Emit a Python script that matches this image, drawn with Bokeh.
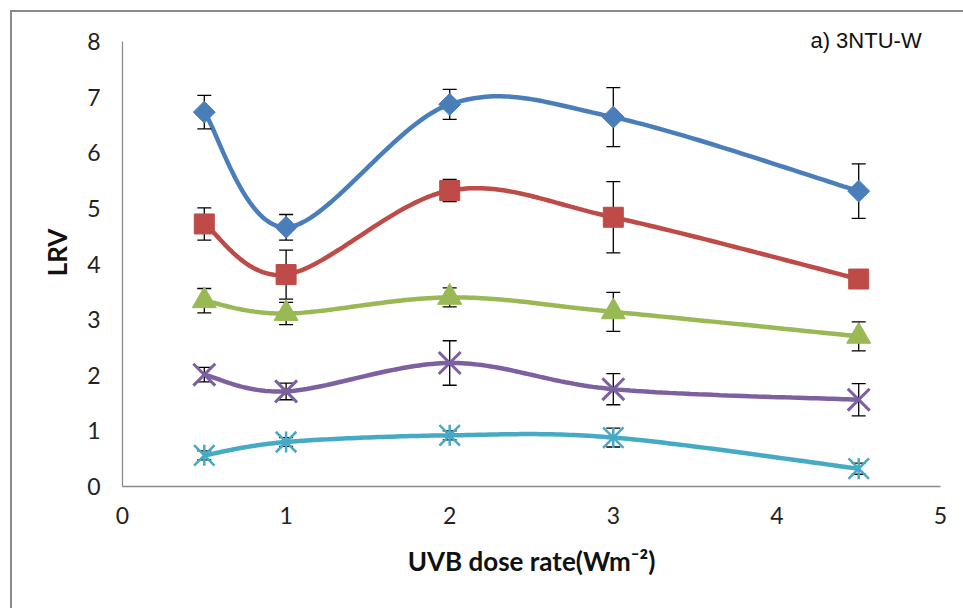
import numpy as np
from bokeh.plotting import figure
from bokeh.models import Label, FixedTicker
from bokeh.embed import file_html
from bokeh.resources import INLINE

# ---- data ----
dose = [0.5, 1, 2, 3, 4.5]
lrv_1 = [6.73, 4.66, 6.87, 6.64, 5.31]
err_1 = [0.30, 0.23, 0.27, 0.53, 0.49]
lrv_2 = [4.72, 3.81, 5.32, 4.84, 3.73]
err_2 = [0.29, 0.44, 0.20, 0.64, 0.08]
lrv_3 = [3.34, 3.11, 3.40, 3.14, 2.70]
err_3 = [0.22, 0.20, 0.17, 0.35, 0.26]
lrv_4 = [2.01, 1.71, 2.22, 1.75, 1.56]
err_4 = [0.13, 0.15, 0.40, 0.28, 0.29]
lrv_5 = [0.56, 0.80, 0.92, 0.88, 0.32]
err_5 = [0.08, 0.08, 0.08, 0.17, 0.10]
x_ticks = [0, 1, 2, 3, 4, 5]
y_ticks = [0, 1, 2, 3, 4, 5, 6, 7, 8]
panel_title = "a) 3NTU-W"
x_title = "UVB dose rate(Wm\u207b\u00b2)"
y_title = "LRV"

colors = ["#4A7EBB", "#BE4B48", "#98B954", "#7D60A0", "#46AAC5"]
series = [(lrv_1, err_1), (lrv_2, err_2), (lrv_3, err_3), (lrv_4, err_4), (lrv_5, err_5)]


def smooth(xs, ys, n=40):
    P = np.column_stack([np.asarray(xs, float), np.asarray(ys, float)])
    N = len(P)
    out = [P[0]]
    t = np.linspace(0, 1, n)[1:, None]
    for i in range(N - 1):
        p0 = P[i - 1] if i > 0 else P[i]
        p1 = P[i]
        p2 = P[i + 1]
        p3 = P[i + 2] if i + 2 < N else P[i + 1]
        c1 = p1 + (p2 - p0) / 6.0
        c2 = p2 - (p3 - p1) / 6.0
        seg = (1 - t) ** 3 * p1 + 3 * (1 - t) ** 2 * t * c1 + 3 * (1 - t) * t ** 2 * c2 + t ** 3 * p2
        out.extend(seg)
    out = np.array(out)
    return out[:, 0], out[:, 1]


# y range extends a little above 8 so the panel label fits inside the frame;
# the axis line itself is bounded to 0..8
p = figure(width=951, height=596, x_range=(0, 5), y_range=(0, 8 + 23 / 55.625),
           output_backend="svg", toolbar_location=None,
           min_border_left=110, min_border_right=23, min_border_top=6, min_border_bottom=122,
           frame_width=818, frame_height=468)
p.margin = (10, 0, 0, 10)
p.styles = {"border-left": "2px solid #8a8a8a", "border-top": "2px solid #8a8a8a"}
p.outline_line_color = None
p.grid.grid_line_color = None
p.background_fill_color = "white"
p.border_fill_color = "white"

for ax in (p.xaxis[0], p.yaxis[0]):
    ax.axis_line_color = "#8a8a8a"
    ax.axis_line_width = 1.3
    ax.major_tick_line_color = None
    ax.minor_tick_line_color = None
    ax.major_tick_out = 0
    ax.major_tick_in = 0
    ax.major_label_text_font = "Lato"
    ax.major_label_text_font_size = "23px"
    ax.major_label_text_color = "#222222"
    ax.axis_label_text_font = "Lato"
    ax.axis_label_text_font_style = "bold"
    ax.axis_label_text_font_size = "26px"
    ax.axis_label_text_color = "#111111"

p.yaxis.bounds = (0, 8)
p.xaxis.ticker = FixedTicker(ticks=x_ticks)
p.yaxis.ticker = FixedTicker(ticks=y_ticks)
p.xaxis.axis_label = x_title
p.yaxis.axis_label = y_title
p.xaxis.major_label_standoff = 20
p.xaxis.axis_label_standoff = 18
p.yaxis.major_label_standoff = 22
p.yaxis.axis_label_standoff = 11

for k, ((ys, es), c) in enumerate(zip(series, colors)):
    sx, sy = smooth(dose, ys)
    p.line(sx, sy, line_color=c, line_width=4.5)
    lo = [y - e for y, e in zip(ys, es)]
    hi = [y + e for y, e in zip(ys, es)]
    p.segment(dose, lo, dose, hi, line_color="black", line_width=1.3)
    p.scatter(dose, lo, marker="dash", size=14, line_color="black", line_width=1.3)
    p.scatter(dose, hi, marker="dash", size=14, line_color="black", line_width=1.3)
    if k == 0:
        p.scatter(dose, ys, marker="square", size=15.5, angle=np.pi / 4,
                  fill_color=c, line_color=c)
    elif k == 1:
        p.scatter(dose, ys, marker="square", size=20, fill_color=c, line_color=c)
    elif k == 2:
        p.scatter(dose, ys, marker="triangle", size=24, fill_color=c, line_color=c)
    elif k == 3:
        p.scatter(dose, ys, marker="x", size=31, line_color=c, line_width=3)
    else:
        p.scatter(dose, ys, marker="x", size=29, line_color=c, line_width=2.5)
        p.scatter(dose, ys, marker="dash", size=21, angle=np.pi / 2, line_color=c, line_width=2.5)

p.add_layout(Label(x=4.205, y=8.02, text=panel_title, text_baseline="middle",
                   text_font="Liberation Sans", text_font_size="22px", text_color="#111111"))

open("out.html", "w").write(file_html(p, INLINE))
